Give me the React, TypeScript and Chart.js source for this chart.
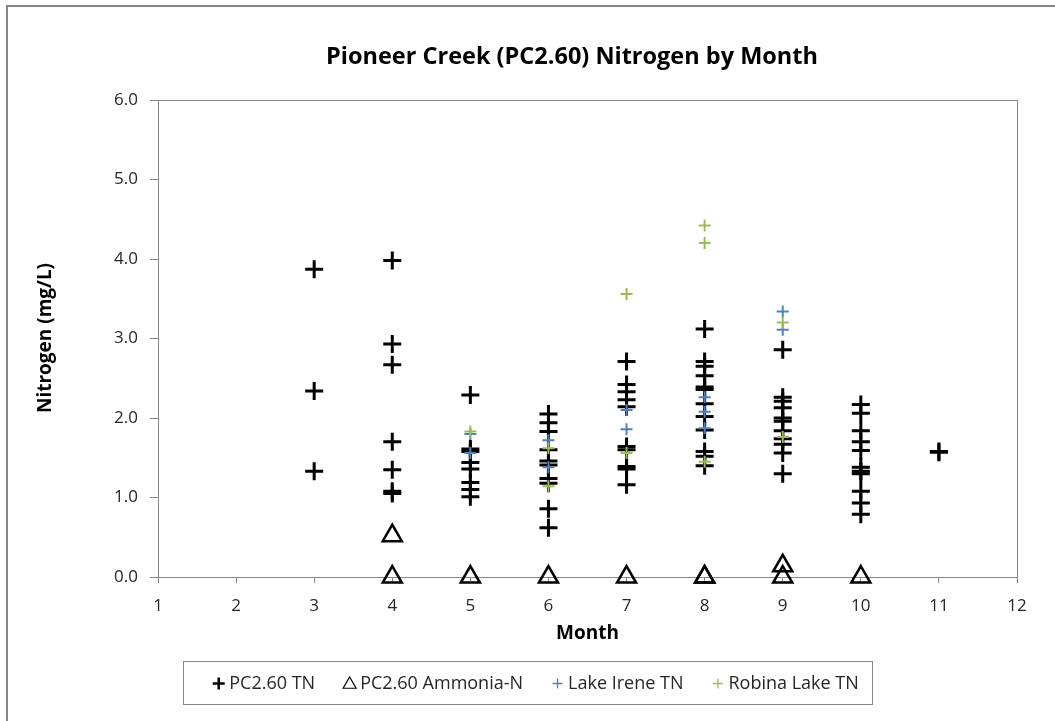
import React, { useEffect, useRef } from "react";
import { Chart, registerables } from "chart.js";

Chart.register(...registerables);

const months = [3, 4, 5, 6, 7, 8, 9, 10, 11];

const pcTN = [
  [3.87, 2.34, 1.33],
  [3.98, 2.93, 2.67, 1.7, 1.35, 1.08, 1.05],
  [2.29, 1.61, 1.58, 1.44, 1.36, 1.19, 1.1, 1.01],
  [2.05, 1.94, 1.83, 1.6, 1.46, 1.41, 1.24, 1.18, 0.86, 0.62],
  [2.71, 2.42, 2.33, 2.23, 2.14, 1.64, 1.6, 1.39, 1.36, 1.16],
  [3.12, 2.71, 2.65, 2.53, 2.39, 2.36, 2.18, 2.02, 1.85, 1.58, 1.52, 1.4],
  [2.86, 2.26, 2.21, 2.13, 2.0, 1.96, 1.84, 1.74, 1.67, 1.56, 1.3],
  [2.17, 2.06, 1.84, 1.7, 1.59, 1.38, 1.33, 1.3, 1.08, 0.93, 0.79],
  [1.58, 1.57],
];

const pcAmmonia = [[], [0.52, 0], [0], [0], [0], [0, 0], [0.14, 0], [0], []];

const lakeIreneTN = [[], [], [1.8, 1.56], [1.72, 1.38], [2.1, 1.86], [2.26, 2.08, 1.87], [3.34, 3.11], [], []];

const robinaLakeTN = [[], [], [1.83], [1.62, 1.14], [3.56, 1.56], [4.42, 4.2, 1.45], [3.2, 1.76], [], []];

const seriesNames = ["PC2.60 TN", "PC2.60 Ammonia-N", "Lake Irene TN", "Robina Lake TN"];
const yTicks = [0, 1, 2, 3, 4, 5, 6];
const xRange = [1, 12];

const FONT = "'Open Sans', 'Noto Sans', sans-serif";
const BLUE = "#4F81BD";
const GREEN = "#9BBB59";
const GRAY = "#868686";
const TEXT = "#262626";

const toPoints = (groups: number[][]) =>
  groups.flatMap((vals, i) => vals.map((v) => ({ x: months[i], y: v })));

function drawCross(ctx: CanvasRenderingContext2D, x: number, y: number, r: number, lw: number, color: string) {
  ctx.save();
  ctx.strokeStyle = color;
  ctx.lineWidth = lw;
  ctx.beginPath();
  ctx.moveTo(x - r, y);
  ctx.lineTo(x + r, y);
  ctx.moveTo(x, y - r);
  ctx.lineTo(x, y + r);
  ctx.stroke();
  ctx.restore();
}

function drawTriangle(ctx: CanvasRenderingContext2D, x: number, y: number, r: number, lw: number, color: string) {
  ctx.save();
  ctx.strokeStyle = color;
  ctx.lineWidth = lw;
  ctx.beginPath();
  for (let k = 0; k < 3; k++) {
    const a = (k * 2 * Math.PI) / 3;
    const px = x + Math.sin(a) * r;
    const py = y - Math.cos(a) * r;
    if (k === 0) ctx.moveTo(px, py);
    else ctx.lineTo(px, py);
  }
  ctx.closePath();
  ctx.stroke();
  ctx.restore();
}

const decor = {
  id: "decor",
  beforeDraw(chart: any) {
    const ctx = chart.ctx as CanvasRenderingContext2D;
    ctx.save();
    ctx.fillStyle = "#ffffff";
    ctx.fillRect(0, 0, chart.width, chart.height);
    ctx.strokeStyle = GRAY;
    ctx.lineWidth = 2;
    ctx.strokeRect(7, 6, chart.width + 20, chart.height + 20);
    ctx.restore();
  },
  afterDraw(chart: any) {
    const ctx = chart.ctx as CanvasRenderingContext2D;
    const a = chart.chartArea;
    ctx.save();
    // top & right borders of plot area
    ctx.strokeStyle = GRAY;
    ctx.lineWidth = 1;
    ctx.beginPath();
    ctx.moveTo(a.left, a.top + 0.5);
    ctx.lineTo(a.right + 0.5, a.top + 0.5);
    ctx.lineTo(a.right + 0.5, a.bottom);
    ctx.stroke();

    // title
    ctx.fillStyle = "#000";
    ctx.textAlign = "center";
    ctx.textBaseline = "middle";
    ctx.font = `bold 23.5px ${FONT}`;
    ctx.fillText("Pioneer Creek (PC2.60) Nitrogen by Month", 572, 57);

    // axis titles
    ctx.font = `bold 19px ${FONT}`;
    ctx.fillText("Month", (a.left + a.right) / 2, 634);
    ctx.save();
    ctx.translate(46, 338);
    ctx.rotate(-Math.PI / 2);
    ctx.fillText("Nitrogen (mg/L)", 0, 0);
    ctx.restore();

    // legend
    const box = { l: 183, t: 661, r: 872, b: 704 };
    ctx.fillStyle = "#fff";
    ctx.fillRect(box.l, box.t, box.r - box.l, box.b - box.t);
    ctx.strokeStyle = GRAY;
    ctx.lineWidth = 1;
    ctx.strokeRect(box.l + 0.5, box.t + 0.5, box.r - box.l, box.b - box.t);
    ctx.font = `18px ${FONT}`;
    ctx.textAlign = "left";
    const symW = 13;
    const gapSym = 4;
    const gapItem = 28;
    const widths = seriesNames.map((n) => symW + gapSym + ctx.measureText(n).width);
    const total = widths.reduce((s, w) => s + w, 0) + gapItem * (seriesNames.length - 1);
    let x = (box.l + box.r) / 2 + 8 - total / 2;
    const cy = (box.t + box.b) / 2 + 1;
    seriesNames.forEach((n, i) => {
      const sx = x + symW / 2;
      if (i === 0) drawCross(ctx, sx, cy, 6, 2.5, "#000");
      if (i === 1) drawTriangle(ctx, sx, cy + 1, 7.5, 1.2, "#000");
      if (i === 2) drawCross(ctx, sx, cy, 5, 1.3, BLUE);
      if (i === 3) drawCross(ctx, sx, cy, 5, 1.3, GREEN);
      ctx.fillStyle = TEXT;
      ctx.fillText(n, x + symW + gapSym, cy);
      x += widths[i] + gapItem;
    });
    ctx.restore();
  },
};

export default function App() {
  const ref = useRef<HTMLCanvasElement>(null);
  useEffect(() => {
    const canvas = ref.current;
    if (!canvas) return;
    const chart = new Chart(canvas, {
      type: "scatter",
      data: {
        datasets: [
          {
            label: seriesNames[0],
            data: toPoints(pcTN),
            pointStyle: "cross",
            pointRadius: 9,
            pointBorderWidth: 3,
            borderWidth: 3,
            borderColor: "#000",
            backgroundColor: "#000",
            order: 3,
            clip: false,
          },
          {
            label: seriesNames[1],
            data: toPoints(pcAmmonia),
            pointStyle: "triangle",
            pointRadius: 11,
            pointBorderWidth: 2.5,
            borderWidth: 2.5,
            borderColor: "#000",
            backgroundColor: "rgba(0,0,0,0)",
            order: 2,
            clip: false,
          },
          {
            label: seriesNames[2],
            data: toPoints(lakeIreneTN),
            pointStyle: "cross",
            pointRadius: 6,
            pointBorderWidth: 2,
            borderWidth: 2,
            borderColor: BLUE,
            backgroundColor: BLUE,
            order: 1,
            clip: false,
          },
          {
            label: seriesNames[3],
            data: toPoints(robinaLakeTN),
            pointStyle: "cross",
            pointRadius: 6,
            pointBorderWidth: 2,
            borderWidth: 2,
            borderColor: GREEN,
            backgroundColor: GREEN,
            order: 0,
            clip: false,
          },
        ] as any,
      },
      options: {
        responsive: false,
        animation: false,
        events: [],
        layout: { padding: { left: 0, top: 100, right: 38, bottom: 0 } },
        plugins: {
          legend: { display: false },
          title: { display: false },
          tooltip: { enabled: false },
        },
        scales: {
          x: {
            type: "linear",
            min: xRange[0],
            max: xRange[1],
            afterFit: (s: any) => {
              s.height = 144;
            },
            ticks: {
              stepSize: 1,
              font: { family: FONT, size: 17 },
              color: TEXT,
              padding: 13,
            },
            grid: { drawOnChartArea: false, drawTicks: true, tickLength: 6, color: GRAY },
            border: { display: true, color: GRAY },
          },
          y: {
            type: "linear",
            min: yTicks[0],
            max: yTicks[yTicks.length - 1],
            afterFit: (s: any) => {
              s.width = 158;
            },
            afterBuildTicks: (s: any) => {
              s.ticks = yTicks.map((v) => ({ value: v }));
            },
            ticks: {
              font: { family: FONT, size: 17 },
              color: TEXT,
              padding: 12,
              callback: (v: any) => Number(v).toFixed(1),
            },
            grid: { drawOnChartArea: false, drawTicks: true, tickLength: 8, color: GRAY },
            border: { display: true, color: GRAY },
          },
        },
      },
      plugins: [decor],
    });
    return () => chart.destroy();
  }, []);
  return (
    <div style={{ position: "absolute", left: 0, top: 0, width: 1055, height: 721, background: "#fff" }}>
      <canvas ref={ref} width={1055} height={721} style={{ display: "block" }} />
    </div>
  );
}
